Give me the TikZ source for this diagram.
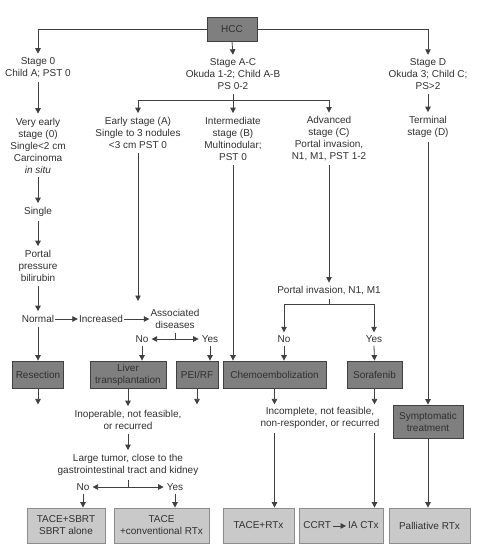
\documentclass[tikz,border=0pt]{standalone}
\usepackage{fontspec}
\setmainfont{Liberation Sans}
\usetikzlibrary{arrows.meta}

\definecolor{boxdark}{HTML}{7F7F7F}
\definecolor{boxlight}{HTML}{C9C9C9}
\definecolor{lineg}{HTML}{404040}
\definecolor{textg}{HTML}{303030}

\begin{document}
\begin{tikzpicture}[x=1pt,y=-1pt,
  font=\fontsize{10}{12}\selectfont,
  txt/.style={align=center,text=textg,inner xsep=1pt,inner ysep=4pt},
  yn/.style={text=textg,inner sep=3pt},
  dbox/.style={draw=black!75,fill=boxdark,text=textg,align=center,line width=0.8pt,minimum height=27pt,inner sep=1pt},
  lbox/.style={draw=black!45,fill=boxlight,text=textg,align=center,line width=0.8pt,minimum height=35pt,inner sep=1pt},
  ln/.style={lineg,line width=0.8pt},
  arr/.style={ln,-{Triangle[length=5.5pt,width=5.5pt]}},
  both/.style={ln,{Triangle[length=5.5pt,width=5.5pt]}-{Triangle[length=5.5pt,width=5.5pt]}}]

\useasboundingbox (0,0) rectangle (477,552);

% top
\node[dbox,minimum width=50pt,minimum height=24pt] (hcc) at (232,29) {HCC};
\node[txt] (s0) at (38,68) {Stage 0\\Child A; PST 0};
\node[txt] (sac) at (233,74.5) {Stage A-C\\Okuda 1-2; Child A-B\\PS 0-2};
\node[txt] (sd) at (428,74.5) {Stage D\\Okuda 3; Child C;\\PS>2};

% stages
\node[txt] (vearly) at (38,145.5) {Very early\\stage (0)\\Single<2 cm\\Carcinoma\\\textit{in situ}};
\node[txt] (early) at (138,133) {Early stage (A)\\Single to 3 nodules\\<3 cm PST 0};
\node[txt] (inter) at (233,139) {Intermediate\\stage (B)\\Multinodular;\\PST 0};
\node[txt] (adv) at (329,139) {Advanced\\stage (C)\\Portal invasion,\\N1, M1, PST 1-2};
\node[txt] (term) at (428,127) {Terminal\\stage (D)};

% left branch
\node[txt] (single) at (38,212) {Single};
\node[txt] (portal) at (38,266) {Portal\\pressure\\bilirubin};
\node[txt] (normal) at (38,319) {Normal};
\node[txt] (incr) at (101,319) {Increased};
\node[txt] (assoc) at (175,319) {Associated\\diseases};
\node[yn] (no1) at (142,339) {No};
\node[yn] (yes1) at (210,339) {Yes};
\coordinate (eend) at (138,301);

% portal invasion
\node[txt] (pinv) at (329,291) {Portal invasion, N1, M1};
\node[yn] (no2) at (284,339) {No};
\node[yn] (yes2) at (374,339) {Yes};

% treatment boxes
\node[dbox,minimum width=51pt] (resect) at (38,374.5) {Resection};
\node[dbox,minimum width=76pt] (lt) at (128,374.5) {Liver\\transplantation};
\node[dbox,minimum width=42pt] (pei) at (197,374.5) {PEI/RF};
\node[dbox,minimum width=103pt] (chemo) at (274.5,374.5) {Chemoembolization};
\node[dbox,minimum width=55pt] (soraf) at (374.5,374.5) {Sorafenib};
\node[dbox,minimum width=70pt,minimum height=33pt] (symp) at (428,421.5) {Symptomatic\\treatment};

% failure
\node[txt] (inop) at (128,420) {Inoperable, not feasible,\\or recurred};
\node[txt] (large) at (128,465) {Large tumor, close to the\\gastrointestinal tract and kidney};
\node[yn] (no3) at (83,487) {No};
\node[yn] (yes3) at (175,487) {Yes};
\node[txt] (incomp) at (320,418) {Incomplete, not feasible,\\non-responder, or recurred};

% RT options
\node[lbox,minimum width=78pt] (tsbrt) at (66,525.5) {TACE+SBRT\\SBRT alone};
\node[lbox,minimum width=95pt] (tconv) at (161.5,525.5) {TACE\\+conventional RTx};
\node[lbox,minimum width=71pt] (trtx) at (258.5,525.5) {TACE+RTx};
\node[lbox,minimum width=84pt] (ccrt) at (341,525.5) {CCRT\,\tikz[baseline=-3pt]\draw[-{Triangle[length=5.5pt,width=5.5pt]},line width=0.8pt,lineg] (0,0) -- (13pt,0);\,IA CTx};
\node[lbox,minimum width=81pt] (pall) at (429.5,525.5) {Palliative RTx};

% connectors
\draw[arr] (hcc.west) -| (s0.north);
\draw[arr] (hcc.south) -- (sac.north);
\draw[arr] (hcc.east) -| (sd.north);

\draw[arr] (s0.south) -- (vearly.north);
\coordinate (jac) at (233,100);
\draw[ln] (sac.south) -- (jac);
\draw[arr] (jac) -| (early.north);
\draw[arr] (jac) -- (inter.north);
\draw[arr] (jac) -| (adv.north);
\draw[arr] (sd.south) -- (term.north);

\draw[arr] (vearly.south) -- (single.north);
\draw[arr] (single.south) -- (portal.north);
\draw[arr] (portal.south) -- (normal.north);
\draw[arr] (normal.east) -- (incr.west);
\draw[arr] (incr.east) -- (assoc.west);
\draw[arr] (early.south) -- (eend);
\draw[ln] (assoc.south) -- (assoc.south |- no1.center);
\draw[both] (no1.east) -- (yes1.west);
\draw[arr] (normal.south) -- (normal.south |- resect.north);
\draw[arr] (no1.south) -- (no1.south |- lt.north);
\draw[arr] (yes1.south) -- (yes1.south |- pei.north);
\draw[arr] (inter.south) -- (inter.south |- chemo.north);

\draw[arr] (adv.south) -- (pinv.north);
\coordinate (jpi) at (329,304);
\draw[ln] (pinv.south) -- (jpi);
\draw[arr] (jpi) -| (no2.north);
\draw[arr] (jpi) -| (yes2.north);
\draw[arr] (no2.south) -- (no2.south |- chemo.north);
\draw[arr] (yes2.south) -- (soraf.north);

\draw[arr] (term.south) -- (symp.north);

\draw[arr] (resect.south) -- ++(0,16);
\draw[arr] (lt.south) -- (inop.north);
\draw[arr] (pei.south) -- ++(0,16);
\draw[arr] (chemo.south) -- ++(0,16);
\draw[arr] (soraf.south) -- ++(0,16);

\draw[arr] (inop.south) -- (large.north);
\draw[ln] (large.south) -- (large.south |- no3.center);
\draw[both] (no3.east) -- (yes3.west);
\draw[arr] (no3.south) -- (no3.south |- tsbrt.north);
\draw[arr] (yes3.south) -- (yes3.south |- tconv.north);

\draw[arr] (incomp.south -| chemo.south) -- (trtx.north -| chemo.south);
\draw[arr] (incomp.south -| soraf.south) -- (ccrt.north -| soraf.south);
\draw[arr] (symp.south) -- (symp.south |- pall.north);

\end{tikzpicture}
\end{document}
